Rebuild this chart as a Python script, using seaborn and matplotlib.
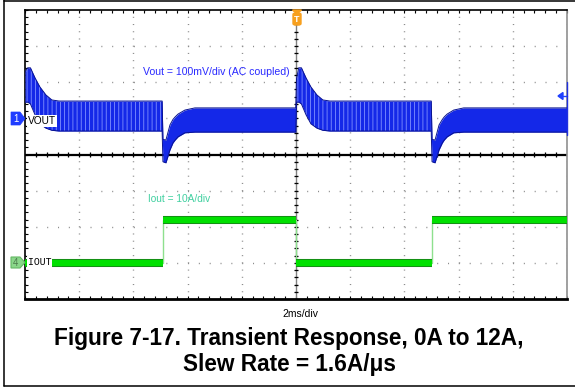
import matplotlib
matplotlib.use("Agg")
import numpy as np
import pandas as pd
import matplotlib.pyplot as plt
import matplotlib.patheffects as pe
from matplotlib.patches import Polygon, FancyBboxPatch
from matplotlib.lines import Line2D
from matplotlib.ticker import MultipleLocator
import seaborn as sns

# ------------------------------------------------------------------ data
# Vout trace envelope (AC coupled, 100 mV/div): time in ms, edges in mV
vout_t = [0.00, 0.10, 0.20, 0.37, 0.55, 0.77, 0.99, 1.25,
          5.06, 5.09, 5.20, 5.35, 5.46, 5.54, 5.65, 5.90, 6.27,
          9.99, 10.02, 10.10, 10.20, 10.37, 10.55, 10.77, 10.99, 11.25,
          14.99, 15.02, 15.13, 15.28, 15.40, 15.47, 15.58, 15.82, 16.19,
          20.00]
vout_upper = [128, 140, 140, 112, 87, 65, 51, 48,
              48, -58, -60, -18, -3, 4, 12, 23, 29,
              29, 110, 140, 140, 112, 87, 65, 51, 48,
              48, -58, -60, -18, -3, 4, 12, 23, 29,
              29]
vout_lower = [45, 45, 40, 10, -15, -27, -33, -35,
              -35, -120, -123, -87, -68, -60, -51, -40, -38,
              -38, 45, 45, 40, 10, -15, -27, -33, -35,
              -35, -120, -123, -87, -68, -60, -51, -40, -38,
              -38]
# light-load (0 A) intervals, ms
light_load_windows = [(0.0, 5.06), (10.0, 14.99)]

# Iout trace (10 A/div): time in ms, current in A
iout_t = [0.00, 5.08, 10.00, 15.00, 20.00]
iout_a = [0, 12, 0, 12, 12]

time_div_label = "2ms/div"
vout_label = "Vout = 100mV/div (AC coupled)"
iout_label = "Iout = 10A/div"
title_1 = "Figure 7-17. Transient Response, 0A to 12A,"
title_2 = "Slew Rate = 1.6A/μs"

# ------------------------------------------------------------------ style
sns.set_theme(style="white")
plt.rcParams['font.family'] = ['Liberation Sans', 'DejaVu Sans']
plt.rcParams['text.color'] = 'black'
plt.rcParams['hatch.linewidth'] = 0.6

W, H = 575, 388
fig = plt.figure(figsize=(W / 100, H / 100), dpi=100)
fig.patch.set_facecolor('white')


def fx(x):
    return x / W


def fy(y):
    return 1 - y / H


ax = fig.add_axes([fx(25), fy(299), (567 - 25) / W, (299 - 10) / H])
ax.set_facecolor('white')
ax.set_xlim(0, 20)
ax.set_ylim(0, 8)
ax.xaxis.set_major_locator(MultipleLocator(2))
ax.xaxis.set_minor_locator(MultipleLocator(0.4))
ax.yaxis.set_major_locator(MultipleLocator(1))
ax.yaxis.set_minor_locator(MultipleLocator(0.2))
ax.tick_params(which='both', direction='in', length=2.5, width=0.8,
               color='black', top=True, right=True, bottom=True, left=True,
               labelbottom=False, labelleft=False)
ax.xaxis.grid(True, which='major', color='#8c8c8c', lw=1.0,
              linestyle=(0, (0.75, 4.45)))
ax.yaxis.grid(True, which='major', color='#8c8c8c', lw=1.0,
              linestyle=(0, (0.75, 7.05)))
for s in ['left', 'top']:
    ax.spines[s].set_color('black')
    ax.spines[s].set_linewidth(1.2)
ax.spines['bottom'].set_color('black')
ax.spines['bottom'].set_linewidth(2.0)
ax.spines['right'].set_color('#909090')
ax.spines['right'].set_linewidth(1.2)

# centre axes with ticks
ax.axhline(4, color='black', lw=1.6, zorder=2)
ax.axvline(10, color='#808080', lw=1.0, zorder=2)
ax.vlines(np.arange(0.4, 20, 0.4), 4 - 0.07, 4 + 0.07, color='black', lw=0.9, zorder=2)
ax.hlines(np.arange(0.2, 8, 0.2), 10 - 0.07, 10 + 0.07, color='black', lw=0.9, zorder=2)

# ------------------------------------------------------------------ Vout
ax_v = ax.twinx()
t = np.array(vout_t)
up = np.array(vout_upper)
lo = np.array(vout_lower)
ax_v.fill_between(t, lo, up, color='#1428e8', lw=0)
for a, b in light_load_windows:
    m = (t >= a) & (t <= b)
    ax_v.fill_between(t, lo, up, where=m, facecolor='none',
                      edgecolor='#8090ff', hatch='||||', lw=0)
vdf = pd.DataFrame({'t': vout_t, 'up': vout_upper, 'lo': vout_lower})
sns.lineplot(data=vdf, x='t', y='up', ax=ax_v, color='#0a1490', lw=0.7)
sns.lineplot(data=vdf, x='t', y='lo', ax=ax_v, color='#0a1490', lw=0.7)
ax_v.set_xlim(0, 20)
ax_v.set_ylim(-500, 300)
ax_v.set_axis_off()

# ------------------------------------------------------------------ Iout
ax_i = ax.twinx()
idf = pd.DataFrame({'t': iout_t, 'a': iout_a})
sns.lineplot(data=idf, x='t', y='a', ax=ax_i, drawstyle='steps-post',
             color='#8ee08e', lw=1.0)
ax_i.hlines(iout_a[:-1], iout_t[:-1], iout_t[1:], color='#00e000', lw=4.4,
            path_effects=[pe.Stroke(linewidth=5.8, foreground='#168c16'), pe.Normal()])
ax_i.set_xlim(0, 20)
ax_i.set_ylim(-10, 70)
ax_i.set_axis_off()

# ------------------------------------------------------------------ labels
fig.text(fx(143), fy(72), vout_label, color='#2a2aff', fontsize=7.6, va='center', ha='left')
fig.text(fx(148), fy(199), iout_label, color='#40d0a0', fontsize=7.3, va='center', ha='left')
fig.text(fx(28), fy(121), "VOUT", fontsize=7.3, va='center', ha='left',
         bbox=dict(fc='white', ec='none', pad=0.8))
fig.text(fx(28), fy(262), "IOUT", family=['Liberation Mono', 'DejaVu Sans Mono'],
         fontsize=7, va='center', ha='left', bbox=dict(fc='white', ec='none', pad=0.6))

# channel markers
ch1 = Polygon([(fx(11), fy(112)), (fx(20), fy(112)), (fx(25), fy(118.5)),
               (fx(20), fy(125)), (fx(11), fy(125))], closed=True,
              transform=fig.transFigure, fc='#1f3cff', ec='#1f3cff', lw=0.5)
fig.add_artist(ch1)
fig.text(fx(15.5), fy(118.5), "1", color='white', fontsize=7, ha='center', va='center')
ch4 = Polygon([(fx(11), fy(257)), (fx(20), fy(257)), (fx(25), fy(262.5)),
               (fx(20), fy(268)), (fx(11), fy(268))], closed=True,
              transform=fig.transFigure, fc='#8ad68a', ec='#64b864', lw=0.8)
fig.add_artist(ch4)
fig.text(fx(15.5), fy(262.5), "4", color='#4d7d4d', fontsize=7, ha='center', va='center')

# trigger marker
trig_box = FancyBboxPatch((fx(293), fy(25)), fx(8), 12 / H,
                          boxstyle="round,pad=0,rounding_size=0.004",
                          transform=fig.transFigure, fc='#f7a01e', ec='#f7a01e')
fig.add_artist(trig_box)
fig.add_artist(Polygon([(fx(292.5), fy(10)), (fx(301.5), fy(10)), (fx(297), fy(14))],
                       closed=True, transform=fig.transFigure, fc='#f7a01e', ec='#f7a01e'))
fig.text(fx(297), fy(19.5), "T", color='white', fontsize=6.5, weight='bold', ha='center', va='center')

# trigger level arrow at right
fig.add_artist(Polygon([(fx(558), fy(96)), (fx(563), fy(92.5)), (fx(563), fy(99.5))],
                       closed=True, transform=fig.transFigure, fc='#2040ff', ec='#2040ff'))
fig.add_artist(Line2D([fx(563), fx(567)], [fy(96), fy(96)], transform=fig.transFigure,
                      color='#2040ff', lw=1))
fig.add_artist(Line2D([fx(567), fx(567)], [fy(82), fy(135)], transform=fig.transFigure,
                      color='#2030e0', lw=1))

# captions
fig.text(fx(300), fy(314), time_div_label, fontsize=7.5, ha='center', va='center', color='black')
fig.text(fx(289), fy(338), title_1, fontsize=16.3, weight='bold', ha='center', va='center', color='black')
fig.text(fx(289), fy(365), title_2, fontsize=16.3, weight='bold', ha='center', va='center', color='black')

# outer border
for xs, ys in [([4, 4], [0, 386]), ([4, 575], [1, 1]), ([4, 575], [386, 386])]:
    fig.add_artist(Line2D([fx(v) for v in xs], [fy(v) for v in ys],
                          transform=fig.transFigure, color='black', lw=1.1))

fig.savefig('out.png', dpi=100)
